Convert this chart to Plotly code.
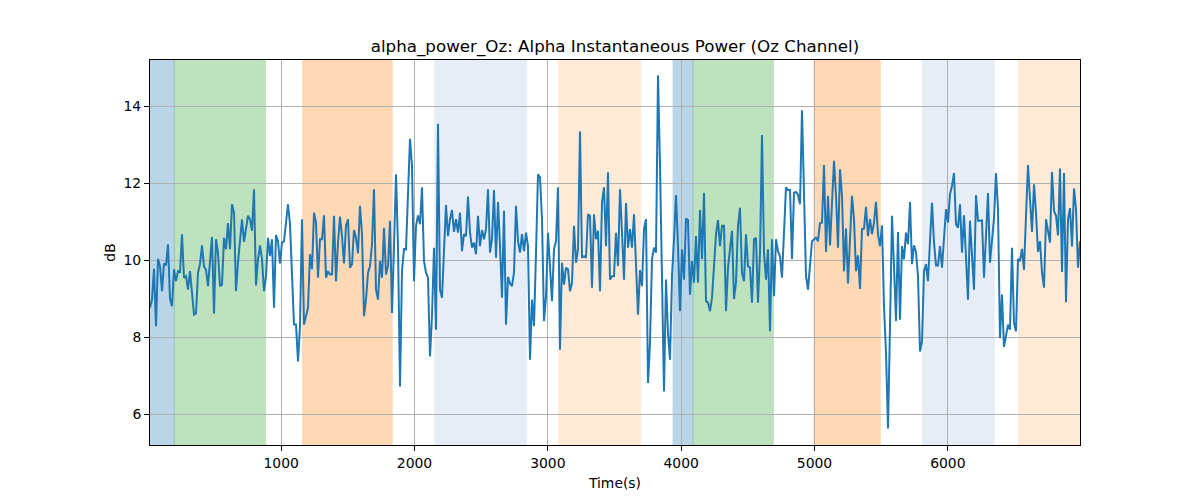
import numpy as np
import plotly.graph_objects as go

# sampling grid of the Oz alpha power trace (seconds)
t_start = 16
t_step = 15

alpha_power_oz = [
    8.77, 8.98, 9.78, 8.29, 10.04, 9.85, 9.20, 9.92, 9.87, 10.42, 9.00, 8.81, 9.77, 9.46, 9.72, 9.68,
    10.68, 9.55, 9.59, 9.24, 9.72, 9.16, 8.59, 8.62, 9.68, 9.90, 10.39, 9.85, 9.75, 9.33, 10.07, 10.61,
    8.62, 10.55, 10.20, 9.33, 9.37, 10.59, 10.29, 10.97, 10.29, 11.46, 11.24, 9.20, 9.94, 10.50, 11.07,
    10.48, 10.77, 11.16, 11.07, 10.77, 11.85, 9.35, 10.03, 10.39, 10.03, 9.20, 9.59, 10.59, 10.11,
    10.55, 8.77, 10.66, 10.50, 9.92, 10.46, 10.50, 10.98, 11.46, 10.94, 9.59, 8.33, 8.33, 7.37, 8.29,
    11.07, 8.33, 8.55, 8.77, 10.16, 9.77, 11.24, 10.98, 9.55, 10.55, 10.55, 11.17, 9.55, 9.72, 9.63,
    9.63, 11.16, 9.46, 10.46, 11.14, 10.63, 9.92, 10.90, 11.07, 9.81, 9.90, 10.79, 10.59, 10.18, 11.42,
    10.68, 8.55, 8.98, 9.68, 9.85, 10.42, 11.85, 9.24, 8.98, 9.98, 9.55, 10.85, 9.63, 9.85, 11.03,
    8.63, 10.37, 12.24, 10.37, 6.72, 9.72, 10.30, 10.29, 11.59, 13.16, 12.46, 9.46, 10.90, 11.17, 10.94,
    11.90, 9.98, 9.68, 9.55, 7.50, 8.55, 10.33, 8.20, 13.55, 9.24, 9.03, 10.24, 11.44, 10.63, 11.07,
    11.31, 10.74, 11.07, 10.72, 11.24, 10.24, 10.68, 10.63, 11.66, 10.72, 10.33, 10.46, 10.16, 11.16,
    10.37, 10.79, 10.55, 10.81, 11.85, 10.20, 10.55, 11.83, 10.07, 11.52, 10.37, 9.03, 11.29, 8.33,
    9.57, 9.40,
    9.33, 9.68, 11.42, 10.50, 10.20, 10.68, 10.24, 10.72, 10.37, 7.42, 8.98, 8.29, 10.20, 12.24, 12.16,
    11.07, 8.42, 9.07, 10.72, 9.94, 8.94, 10.29, 10.50, 11.90, 7.68, 9.94, 9.37, 9.81, 9.77, 9.20, 9.42,
    10.90, 9.94, 10.29, 13.35, 10.07, 10.11, 10.07, 11.20, 11.16, 9.29, 11.20, 10.55, 10.77, 9.20,
    11.50, 11.90, 10.37, 12.29, 9.50, 9.59, 9.59, 10.72, 9.85, 11.85, 10.72, 9.50, 11.49, 10.33, 10.81,
    10.33, 11.20, 10.03, 8.59, 9.75, 9.33, 10.81, 11.07, 6.81, 7.85, 10.03, 10.33, 10.20, 14.81, 12.46,
    9.59, 6.59, 9.50, 8.11, 7.42, 9.59, 10.55, 11.70, 10.37, 8.68, 10.29, 9.50, 11.09, 11.05, 9.11,
    9.98, 9.42, 10.63, 9.42, 11.31, 10.03, 11.76, 8.94, 8.90, 8.68, 9.03, 9.85, 10.68, 11.05, 10.37,
    10.90, 10.90, 8.68, 9.81, 10.29, 10.77, 9.00, 9.42, 10.90, 11.37, 9.68, 9.46, 10.68, 9.85, 9.81,
    8.90, 10.55, 10.59, 8.90, 10.20, 13.26, 10.20, 9.50, 10.29, 8.16, 10.55, 9.07, 10.55, 10.24, 10.11,
    9.55, 10.59, 11.90, 11.83, 11.83, 10.04, 11.76, 11.78, 11.70, 11.46, 13.90, 11.76, 9.59, 9.24, 9.85,
    10.50, 10.55, 10.59, 10.50, 10.97, 10.98, 12.48, 10.22, 11.68, 10.39, 11.49, 12.59, 11.70, 10.33,
    12.37, 11.68, 9.72, 10.83, 9.40, 10.63, 11.68, 11.07, 9.72, 10.13, 9.26, 10.81, 10.83, 11.39, 10.63,
    11.07,
    10.68, 10.98, 11.52, 10.68, 10.37, 10.91, 8.81, 7.59, 5.63, 8.29, 11.16, 9.85, 8.42, 10.74, 8.46,
    10.37, 10.03, 10.72, 10.42, 11.52, 9.90, 10.39, 10.22, 9.59, 7.63, 7.89, 9.72, 9.90, 9.46, 10.50,
    11.50, 10.46, 9.87, 9.87, 10.37, 9.81, 10.50, 11.33, 10.98, 11.72, 11.94, 12.27, 10.94, 10.85, 11.46,
    10.20, 11.17, 9.94, 8.98, 11.03, 10.20, 9.24, 11.70, 11.03, 11.03, 11.04, 9.55, 10.72, 11.75, 9.94,
    10.59, 11.09, 12.27, 11.33, 7.98, 9.11, 7.75, 8.01, 8.33, 8.20, 10.33, 8.37, 8.16, 10.04, 9.98,
    10.30, 9.75, 11.16, 12.48, 11.59, 10.74, 11.98, 11.24, 10.22, 10.50, 9.68, 9.29, 11.07, 10.72, 10.46,
    12.30, 11.29, 11.16, 10.65, 12.39, 9.70, 12.27, 8.91, 11.07, 11.36, 10.36, 11.87, 11.33, 9.81, 10.50,
]

time_s = t_start + t_step * np.arange(len(alpha_power_oz))

# shaded condition windows (start, end, colour, opacity)
span_starts = [16, 198, 1160, 2152, 3082, 3939, 4089, 4996, 5810, 6530]
span_ends = [198, 883, 1832, 2839, 3694, 4089, 4691, 5493, 6348, 6991]
span_colors = ["#1f77b4", "#2ca02c", "#ff7f0e", "#5b8fd0", "#ff7f0e",
               "#1f77b4", "#2ca02c", "#ff7f0e", "#5b8fd0", "#ff7f0e"]
span_alpha = [0.3, 0.3, 0.3, 0.15, 0.16, 0.3, 0.3, 0.3, 0.15, 0.16]

x_ticks = [1000, 2000, 3000, 4000, 5000, 6000]
y_ticks = [6, 8, 10, 12, 14]

fig = go.Figure()
fig.add_trace(go.Scatter(x=time_s, y=alpha_power_oz, mode="lines",
                         line=dict(color="#1f77b4", width=2), showlegend=False))

for x0, x1, c, a in zip(span_starts, span_ends, span_colors, span_alpha):
    fig.add_vrect(x0=x0, x1=x1, fillcolor=c, opacity=a, layer="below",
                  line=dict(color=c, width=1))

font = "DejaVu Sans, sans-serif"
axis_common = dict(showline=True, linecolor="black", linewidth=1, mirror=True,
                   ticks="outside", ticklen=5, tickcolor="black", automargin=False,
                   showgrid=True, gridcolor="#b0b0b0", gridwidth=1, zeroline=False,
                   tickfont=dict(family=font, size=13.9, color="black"))

# page body has an 8px margin, so the figure is 16px smaller than the window
fig.update_layout(
    width=1184, height=484,
    paper_bgcolor="white", plot_bgcolor="white",
    margin=dict(l=142, r=112, t=52, b=47),
    title=dict(text="alpha_power_Oz: Alpha Instantaneous Power (Oz Channel)",
               xref="paper", x=0.5, xanchor="center", y=1 - 38 / 484, yanchor="middle",
               font=dict(family=font, size=16.7, color="black")),
    font=dict(family=font, color="black"),
)
fig.update_xaxes(range=[16, 6991], tickvals=x_ticks,
                 title=dict(text="Time(s)", font=dict(family=font, size=13.9), standoff=8),
                 **axis_common)
fig.update_yaxes(range=[5.2, 15.21], tickvals=y_ticks,
                 title=dict(text="dB", font=dict(family=font, size=13.9), standoff=4),
                 **axis_common)

fig.write_html("out.html")
